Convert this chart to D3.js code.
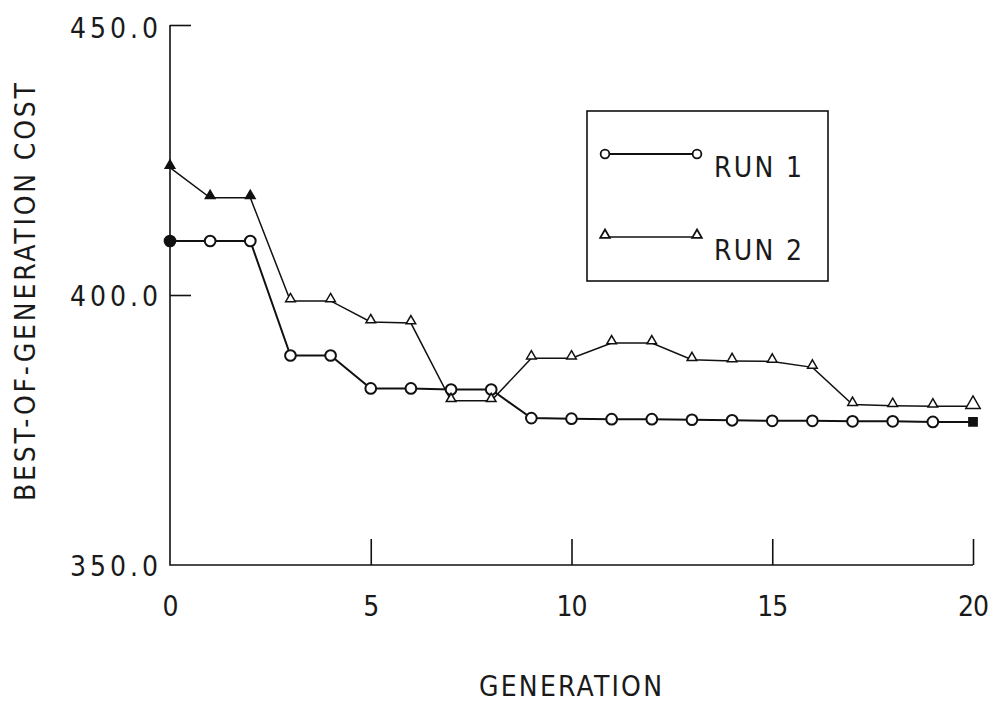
<!DOCTYPE html>
<html lang="en">
<head>
    <meta charset="UTF-8">
    <title>Best-of-generation cost</title>
    <script src="https://d3js.org/d3.v7.min.js"></script>
    <style>
        body { margin: 0; background: #fff; }
        text { font-family: "Liberation Sans Narrow", "DejaVu Sans Condensed", "DejaVu Sans", sans-serif; fill: #1a1a1a; }
    </style>
</head>
<body>
    <div id="chart"></div>
    <script>
        // values
        const generations = d3.range(0, 21);
        const run1 = [410, 410, 410, 388.8, 388.8, 382.7, 382.7, 382.5, 382.5, 377.2,
                      377.1, 377.0, 377.0, 376.9, 376.8, 376.7, 376.7, 376.6, 376.6, 376.5, 376.5];
        const run2 = [423.6, 418, 418, 398.9, 398.9, 395, 394.8, 380.4, 380.4, 388.3,
                      388.3, 391.1, 391.1, 388, 387.8, 387.7, 386.6, 379.7, 379.5, 379.4, 379.4];
        const xTicks = [0, 5, 10, 15, 20];
        const yTicks = [350, 400, 450];
        const seriesNames = ["RUN 1", "RUN 2"];

        const width = 991, height = 702;
        const svg = d3.select("#chart").append("svg")
            .attr("width", width)
            .attr("height", height);

        const x = d3.scaleLinear().domain([0, 20]).range([170, 973]);
        const y = d3.scaleLinear().domain([350, 450]).range([565, 25]);

        const ink = "#111";

        // y axis, ticks pointing inward
        const yAxis = svg.append("g")
            .attr("transform", `translate(${x(0)},0)`)
            .call(d3.axisLeft(y).tickValues(yTicks).tickSize(-21).tickPadding(12)
                .tickFormat(d3.format(".1f")));
        yAxis.select(".domain").remove();
        yAxis.selectAll("line").attr("stroke", ink).attr("stroke-width", 1.6)
            .filter(d => d === 350).remove();
        yAxis.selectAll("text")
            .attr("font-size", 28)
            .attr("dy", "0.36em")
            .attr("textLength", 88)
            .attr("lengthAdjust", "spacing");
        yAxis.selectAll(".tick").filter(d => d === 450).select("text").attr("dy", "0.45em");

        // x axis, ticks pointing up
        const xAxis = svg.append("g")
            .attr("transform", `translate(0,${y(350)})`)
            .call(d3.axisBottom(x).tickValues(xTicks).tickSize(-26).tickPadding(45));
        xAxis.select(".domain").remove();
        xAxis.selectAll("line").attr("stroke", ink).attr("stroke-width", 1.6)
            .filter(d => d === 0).remove();
        xAxis.selectAll("text").attr("font-size", 28).attr("dy", "0.2em");
        xAxis.selectAll(".tick").filter(d => d >= 10).select("text")
            .attr("textLength", 31).attr("lengthAdjust", "spacing");

        // axis frame
        svg.append("path")
            .attr("d", `M${x(0)},${y(450)}V${y(350)}H${x(20)}`)
            .attr("fill", "none")
            .attr("stroke", ink)
            .attr("stroke-width", 1.6);

        // axis titles
        svg.append("text")
            .attr("x", (x(0) + x(20)) / 2 - 1)
            .attr("y", 696)
            .attr("text-anchor", "middle")
            .attr("font-size", 28)
            .attr("textLength", 183)
            .attr("lengthAdjust", "spacing")
            .text("GENERATION");

        svg.append("text")
            .attr("transform", "translate(35,292) rotate(-90)")
            .attr("text-anchor", "middle")
            .attr("font-size", 28)
            .attr("textLength", 418)
            .attr("lengthAdjust", "spacing")
            .text("BEST-OF-GENERATION COST");

        // lines
        const line = d3.line()
            .x((d, i) => x(generations[i]))
            .y(d => y(d));

        [run1, run2].forEach((vals, k) => {
            svg.append("path")
                .datum(vals)
                .attr("d", line)
                .attr("fill", "none")
                .attr("stroke", ink)
                .attr("stroke-width", k === 0 ? 2 : 1.5);
        });

        const tri = d3.symbol().type(d3.symbolTriangle).size(40);
        const triBig = d3.symbol().type(d3.symbolTriangle).size(90);

        // run 1 markers: circles, last point a filled square
        svg.append("g").selectAll("path")
            .data(run1)
            .join("path")
            .attr("transform", (d, i) => `translate(${x(generations[i])},${y(d)})`)
            .attr("d", (d, i) => i === run1.length - 1
                ? d3.symbol().type(d3.symbolSquare).size(60)()
                : d3.symbol().type(d3.symbolCircle).size(90)())
            .attr("fill", (d, i) => i === 0 || i === run1.length - 1 ? ink : "#fff")
            .attr("stroke", ink)
            .attr("stroke-width", 2);

        // run 2 markers: triangles
        svg.append("g").selectAll("path")
            .data(run2)
            .join("path")
            .attr("transform", (d, i) => `translate(${x(generations[i])},${y(d) - 2})`)
            .attr("d", (d, i) => i === run2.length - 1 ? triBig() : tri())
            .attr("fill", (d, i) => i < 3 ? ink : "#fff")
            .attr("stroke", ink)
            .attr("stroke-width", 1.5);

        // legend
        const legend = svg.append("g");
        legend.append("rect")
            .attr("x", 587).attr("y", 111)
            .attr("width", 241).attr("height", 170)
            .attr("fill", "#fff")
            .attr("stroke", ink)
            .attr("stroke-width", 1.6);

        const legendRows = [
            { name: seriesNames[0], y: 154, marker: d3.symbol().type(d3.symbolCircle).size(60)() },
            { name: seriesNames[1], y: 237, marker: d3.symbol().type(d3.symbolTriangle).size(40)() }
        ];
        legendRows.forEach((r, k) => {
            legend.append("line")
                .attr("x1", 605).attr("x2", 697)
                .attr("y1", r.y).attr("y2", r.y)
                .attr("stroke", ink).attr("stroke-width", k === 0 ? 2 : 1.5);
            [605, 697].forEach(px => legend.append("path")
                .attr("transform", `translate(${px},${r.y - (k === 1 ? 2 : 0)})`)
                .attr("d", r.marker)
                .attr("fill", "#fff")
                .attr("stroke", ink)
                .attr("stroke-width", 1.8));
            legend.append("text")
                .attr("x", 714)
                .attr("y", r.y + 23)
                .attr("font-size", 28)
                .attr("textLength", 88)
                .attr("lengthAdjust", "spacing")
                .text(r.name);
        });
    </script>
</body>
</html>
